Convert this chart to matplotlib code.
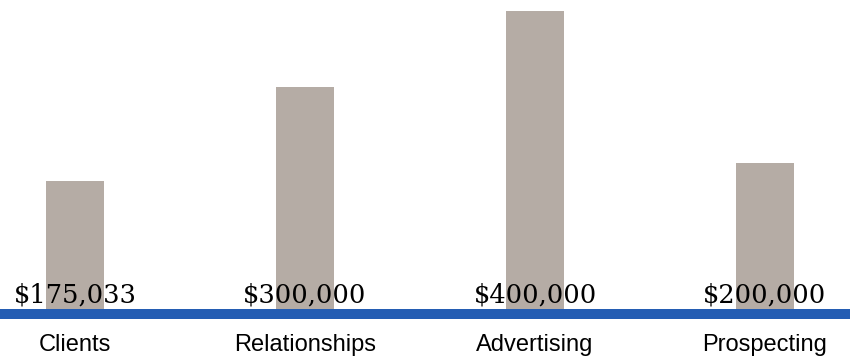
import matplotlib
matplotlib.use("Agg")
import matplotlib.pyplot as plt

categories = ["Clients", "Relationships", "Advertising", "Prospecting"]
values = [175033, 300000, 400000, 200000]
value_labels = ["$175,033", "$300,000", "$400,000", "$200,000"]

BAR_COLOR = "#b5aca5"
LINE_COLOR = "#245db3"

W, H, DPI = 850, 359, 100
fig = plt.figure(figsize=(W / DPI, H / DPI), dpi=DPI)
ax = fig.add_axes([0, 0, 1, 1])
ax.set_axis_off()

x = list(range(len(categories)))
px_per_unit = 230.0
ax.set_xlim(-75 / px_per_unit, (W - 75) / px_per_unit)
px_per_val = 75.75 / 100000
ax.set_ylim(-45 / px_per_val, 314 / px_per_val)

ax.bar(x, values, width=58 / px_per_unit, color=BAR_COLOR, zorder=1)
ax.axhline(0, color=LINE_COLOR, linewidth=10 * 72 / DPI, zorder=2)

pt = 72 / DPI
for xi, lab, cat in zip(x, value_labels, categories):
    ax.annotate(lab, xy=(xi, 0), xytext=(0, 12 * pt), textcoords="offset points",
                ha="center", va="baseline", fontsize=18.5, family="DejaVu Serif",
                color="#000000", zorder=3)
    ax.annotate(cat, xy=(xi, 0), xytext=(0, -31 * pt), textcoords="offset points",
                ha="center", va="center", fontsize=17, family="Liberation Sans",
                color="#000000", zorder=3)

fig.savefig("out.png", dpi=DPI)
